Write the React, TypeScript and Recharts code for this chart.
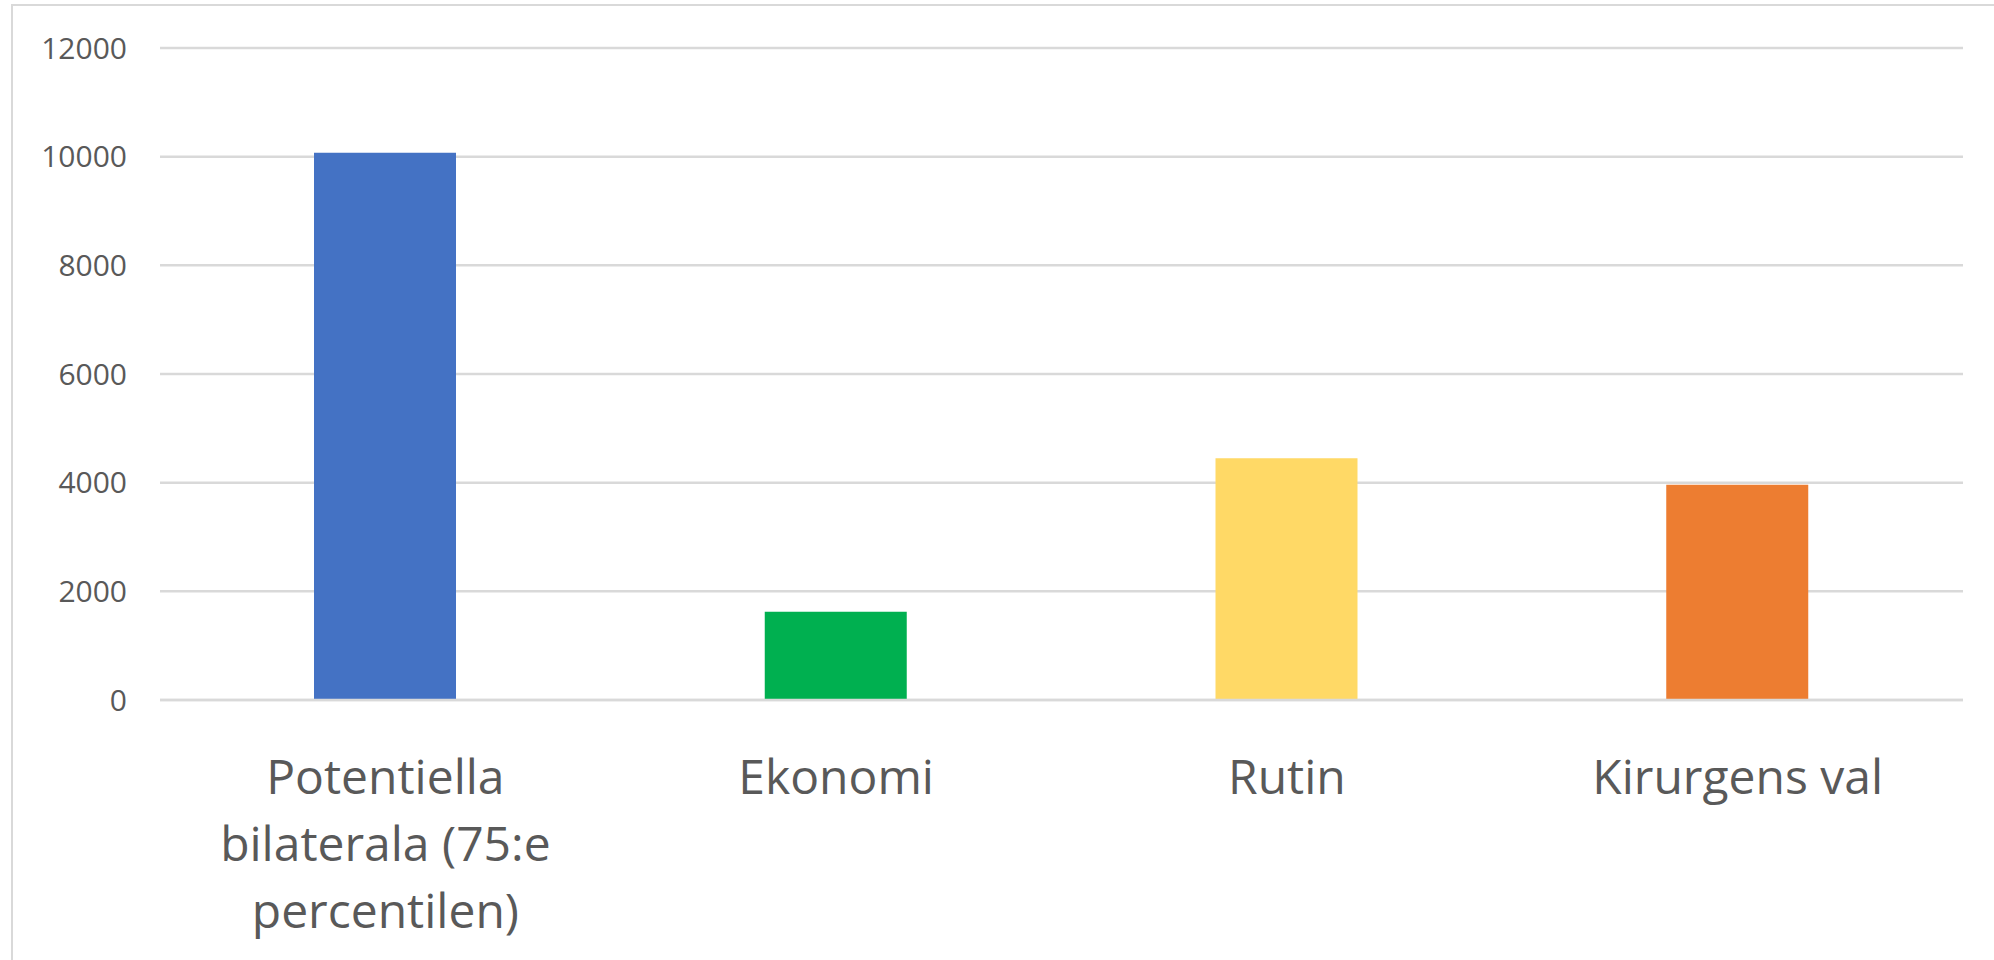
import { BarChart, Bar, XAxis, YAxis, CartesianGrid, Cell } from 'recharts';

const categories = ['Potentiella bilaterala (75:e percentilen)', 'Ekonomi', 'Rutin', 'Kirurgens val'];
const values = [10070, 1625, 4450, 3960];
const yTicks = [0, 2000, 4000, 6000, 8000, 10000, 12000];

const barColors = ['#4472C4', '#00B050', '#FFD966', '#ED7D31'];

const data = categories.map((name, i) => ({ name, value: values[i] }));

const FONT = '"Open Sans", sans-serif';
const TEXT_COLOR = '#595959';
const LABEL_SIZE = 48;
const LABEL_WIDTH = 370;

// greedy word wrap measured with a canvas, same font as the labels
let ctx: CanvasRenderingContext2D | null = null;
const wrap = (label: string) => {
  if (!ctx) ctx = document.createElement('canvas').getContext('2d');
  if (!ctx) return [label];
  ctx.font = `${LABEL_SIZE}px ${FONT}`;
  const lines: string[] = [];
  let cur = '';
  for (const w of label.split(' ')) {
    const next = cur ? cur + ' ' + w : w;
    if (cur && ctx.measureText(next).width > LABEL_WIDTH) {
      lines.push(cur);
      cur = w;
    } else {
      cur = next;
    }
  }
  if (cur) lines.push(cur);
  return lines;
};

const CategoryTick = ({ x, y, payload }: any) => (
  <text
    x={x}
    y={y + 86}
    textAnchor="middle"
    fontSize={LABEL_SIZE}
    fontFamily={FONT}
    fill={TEXT_COLOR}
  >
    {wrap(payload.value).map((line, i) => (
      <tspan key={i} x={x} dy={i === 0 ? 0 : 67}>
        {line}
      </tspan>
    ))}
  </text>
);

export default function App() {
  return (
    <div style={{ position: 'relative', width: 1994, height: 960, overflow: 'hidden', background: '#fff' }}>
      <style>{`body { margin: 0; }`}</style>
      <div
        style={{
          position: 'absolute',
          left: 11,
          top: 4,
          width: 2100,
          height: 1100,
          border: '2.5px solid #d9d9d9',
          boxSizing: 'border-box',
        }}
      />
      <div style={{ position: 'absolute', left: 0, top: 0 }}>
        <BarChart
          width={1994}
          height={960}
          data={data}
          margin={{ top: 48, right: 31, bottom: 0, left: 0 }}
        >
          <CartesianGrid vertical={false} stroke="#d9d9d9" strokeWidth={2.5} />
          <XAxis
            dataKey="name"
            axisLine={{ stroke: '#d9d9d9', strokeWidth: 2.5 }}
            tickLine={false}
            tick={<CategoryTick />}
            interval={0}
            height={260}
          />
          <YAxis
            domain={[0, 12000]}
            ticks={yTicks}
            axisLine={false}
            tickLine={false}
            tickSize={0}
            tickMargin={33}
            width={160}
            tick={{ fontSize: 30, fontFamily: FONT, fill: TEXT_COLOR }}
          />
          <Bar dataKey="value" barSize={142} isAnimationActive={false}>
            {data.map((d, i) => (
              <Cell key={d.name} fill={barColors[i]} />
            ))}
          </Bar>
        </BarChart>
      </div>
    </div>
  );
}
